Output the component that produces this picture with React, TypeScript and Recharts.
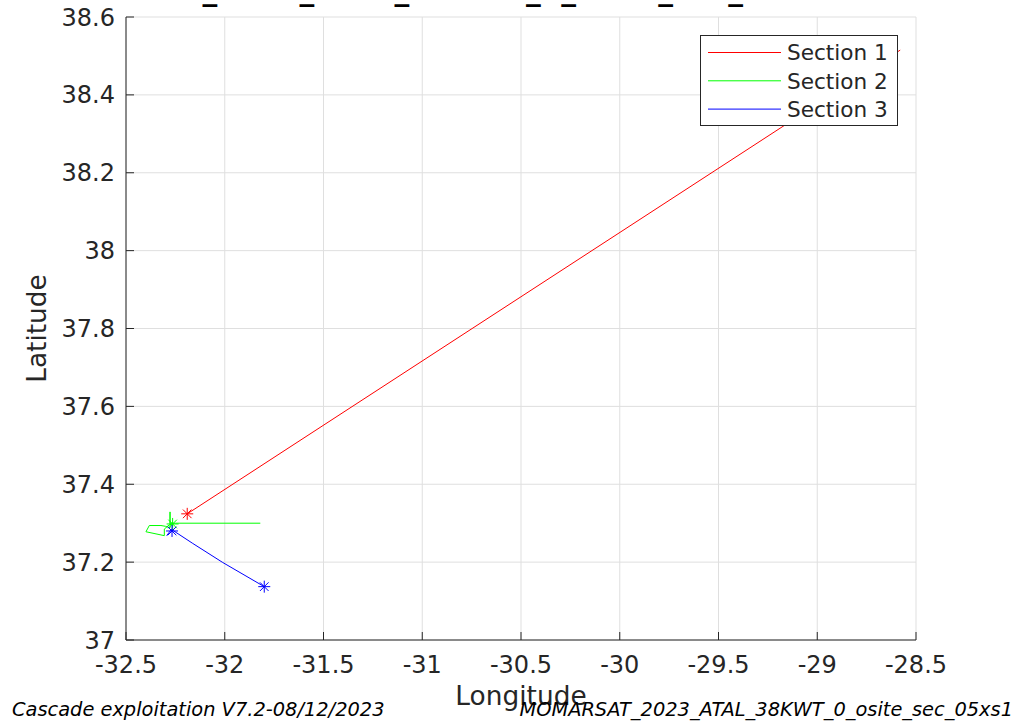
import React from "react"
import {
  CartesianGrid,
  ComposedChart,
  Legend,
  Line,
  Scatter,
  XAxis,
  YAxis,
} from "recharts"

// series (longitude / latitude)
const section1Lon = [-32.19, -28.58]
const section1Lat = [37.324, 38.515]

const section2Lon = [
  -31.82, -32.25, -32.277, -32.277, -32.277, -32.3, -32.323, -32.382,
  -32.399, -32.306, -32.306, -32.28, -32.264,
]
const section2Lat = [
  37.3, 37.3, 37.3, 37.329, 37.288, 37.292, 37.294, 37.294, 37.278, 37.268,
  37.285, 37.296, 37.298,
]

const section3Lon = [-32.294, -32.27, -32.162, -32.01, -31.8]
const section3Lat = [37.268, 37.284, 37.248, 37.199, 37.137]

// star markers (start / end of sections)
const starLon = [-32.19, -32.264, -32.267, -31.8]
const starLat = [37.324, 37.298, 37.28, 37.137]
const starSection = [0, 1, 2, 2]

const seriesNames = ["Section 1", "Section 2", "Section 3"]
const seriesColors = ["#ff0000", "#00ff00", "#0000ff"]

const xTicks = [-32.5, -32, -31.5, -31, -30.5, -30, -29.5, -29, -28.5]
const yTicks = [37, 37.2, 37.4, 37.6, 37.8, 38, 38.2, 38.4, 38.6]

const titleText = "MOMARSAT_2023_ATAL_38KWT_0_osite_sec_05xs1"
const footerLeft = "Cascade exploitation V7.2-08/12/2023"
const footerRight = "MOMARSAT_2023_ATAL_38KWT_0_osite_sec_05xs1"

const toPoints = (lon: number[], lat: number[]) =>
  lon.map((x, i) => ({ x, y: lat[i] }))

const sections = [
  toPoints(section1Lon, section1Lat),
  toPoints(section2Lon, section2Lat),
  toPoints(section3Lon, section3Lat),
]

const FONT = "'DejaVu Sans', sans-serif"
const INK = "#262626"

function XTick(props: any) {
  const { x, y, payload } = props
  return (
    <g>
      <line x1={x} x2={x} y1={y} y2={y - 8} stroke={INK} />
      <text x={x} y={y + 33} textAnchor="middle" fontSize={24} fill={INK} fontFamily={FONT}>
        {String(payload.value)}
      </text>
    </g>
  )
}

function YTick(props: any) {
  const { x, y, payload } = props
  return (
    <g>
      <line x1={x} x2={x + 8} y1={y} y2={y} stroke={INK} />
      <text x={x - 11} y={y + 8.5} textAnchor="end" fontSize={24} fill={INK} fontFamily={FONT}>
        {String(payload.value)}
      </text>
    </g>
  )
}

function Star(props: any) {
  const { cx, cy, color } = props
  const r = 6
  const d = 4.3
  return (
    <g stroke={color} strokeWidth={1}>
      <line x1={cx - r} x2={cx + r} y1={cy} y2={cy} />
      <line x1={cx} x2={cx} y1={cy - r} y2={cy + r} />
      <line x1={cx - d} x2={cx + d} y1={cy - d} y2={cy + d} />
      <line x1={cx - d} x2={cx + d} y1={cy + d} y2={cy - d} />
    </g>
  )
}

function LegendBox() {
  return (
    <svg width={198} height={91} style={{ display: "block" }}>
      <rect x={0.5} y={0.5} width={197} height={90} fill="#fff" stroke={INK} />
      {seriesNames.map((name, i) => (
        <g key={name}>
          <line x1={8} x2={81} y1={17.5 + i * 28.3} y2={17.5 + i * 28.3} stroke={seriesColors[i]} />
          <text x={87} y={25.3 + i * 28.3} fontSize={21.6} fill={INK} fontFamily={FONT}>
            {name}
          </text>
        </g>
      ))}
    </svg>
  )
}

export default function App() {
  return (
    <div style={{ position: "absolute", left: 0, top: 0, width: 1030, height: 722, background: "#fff" }}>
      <ComposedChart
        width={1030}
        height={722}
        margin={{ top: 17, right: 114, bottom: 0, left: 0 }}
      >
        <CartesianGrid stroke="#dfdfdf" />
        <XAxis
          type="number"
          dataKey="x"
          domain={[-32.5, -28.5]}
          ticks={xTicks}
          interval={0}
          allowDataOverflow
          height={82}
          tickSize={0}
          tickMargin={0}
          tickLine={false}
          axisLine={{ stroke: INK }}
          tick={<XTick />}
        />
        <YAxis
          type="number"
          dataKey="y"
          domain={[37, 38.6]}
          ticks={yTicks}
          interval={0}
          allowDataOverflow
          width={126}
          tickSize={0}
          tickMargin={0}
          tickLine={false}
          axisLine={{ stroke: INK }}
          tick={<YTick />}
        />
        {sections.map((pts, i) => (
          <Line
            key={seriesNames[i]}
            name={seriesNames[i]}
            data={pts}
            dataKey="y"
            type="linear"
            stroke={seriesColors[i]}
            strokeWidth={1}
            dot={false}
            activeDot={false}
            isAnimationActive={false}
          />
        ))}
        {starLon.map((lon, i) => (
          <Scatter
            key={"star" + i}
            data={[{ x: lon, y: starLat[i] }]}
            dataKey="y"
            legendType="none"
            isAnimationActive={false}
            shape={(p: any) => <Star cx={p.cx} cy={p.cy} color={seriesColors[starSection[i]]} />}
          />
        ))}
        <Legend
          layout="vertical"
          align="center"
          verticalAlign="middle"
          content={() => <LegendBox />}
          wrapperStyle={{ left: 700, top: 35, width: 198, height: 91 }}
        />
      </ComposedChart>
      <svg
        width={1030}
        height={722}
        style={{ position: "absolute", left: 0, top: 0, pointerEvents: "none" }}
        fontFamily={FONT}
      >
        <text x={11} y={0} fontSize={29.55} fontWeight="bold" fill="#000">
          {titleText}
        </text>
        <text x={521} y={705} textAnchor="middle" fontSize={26.4} fill={INK}>
          Longitude
        </text>
        <text
          x={0}
          y={0}
          transform="translate(46 328.5) rotate(-90)"
          textAnchor="middle"
          fontSize={26.4}
          fill={INK}
        >
          Latitude
        </text>
        <text x={12} y={716} fontSize={19.4} fontStyle="italic" fill="#000">
          {footerLeft}
        </text>
        <text x={1013} y={716} textAnchor="end" fontSize={19.4} fontStyle="italic" fill="#000">
          {footerRight}
        </text>
      </svg>
    </div>
  )
}
